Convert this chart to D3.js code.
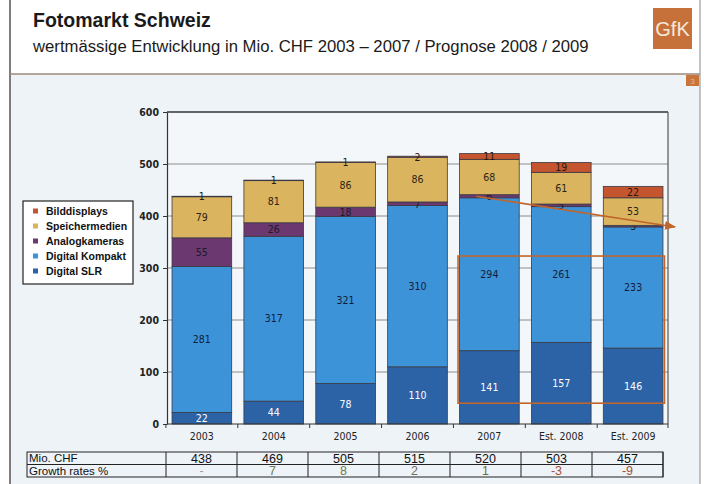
<!DOCTYPE html>
<html><head><meta charset="utf-8">
<script src="https://cdn.jsdelivr.net/npm/d3@7"></script>
<style>
html,body{margin:0;padding:0;background:#fff;}
svg{display:block;}
</style></head>
<body>
<svg id="chart" width="704" height="484"></svg>
<script>
// ---- data ----
const categories = ["2003","2004","2005","2006","2007","Est. 2008","Est. 2009"];
const digitalSLR     = [22, 44, 78, 110, 141, 157, 146];
const digitalKompakt = [281, 317, 321, 310, 294, 261, 233];
const analogkameras  = [55, 26, 18, 7, 6, 5, 3];
const speichermedien = [79, 81, 86, 86, 68, 61, 53];
const bilddisplays   = [1, 1, 1, 2, 11, 19, 22];
const seriesNames  = ["Digital SLR","Digital Kompakt","Analogkameras","Speichermedien","Bilddisplays"];
const seriesColors = ["#2c62a6","#3d93d8","#6c3870","#dbb45f","#c4552e"];
const labelColors  = ["#ffffff","#111d3a","#1a1a2a","#2a2412","#2a1a10"];
const legendOrder  = ["Bilddisplays","Speichermedien","Analogkameras","Digital Kompakt","Digital SLR"];
const yTicks = [0,100,200,300,400,500,600];
const totalsMioCHF = ["438","469","505","515","520","503","457"];
const growthRates  = ["-","7","8","2","1","-3","-9"];
const growthColors = ["#9a9a9a","#6f7a52","#6f7a52","#707060","#7a6a3a","#a4502e","#a4502e"];
const rowLabels = ["Mio. CHF","Growth rates %"];
// annotation: trend arrow (from 2007 at value 438 to beyond plot at value 379), highlight box 2007..2009 from 40 to 323
const trendFrom = {cat:"2007", value:438};
const trendTo   = {value:379};
const highlight = {from:"2007", to:"Est. 2009", low:40, high:323};

const svg = d3.select("#chart");
const W = 704, H = 484;
const narrow = "'Liberation Sans Narrow','Arial Narrow','Liberation Sans',sans-serif";

// backgrounds / frame
svg.append("rect").attr("x",0).attr("y",0).attr("width",W).attr("height",H).attr("fill","#ffffff");
svg.append("rect").attr("x",10).attr("y",74).attr("width",690).attr("height",H-74).attr("fill","#eef3f8");
svg.append("line").attr("x1",10).attr("x2",10).attr("y1",0).attr("y2",H).attr("stroke","#5a5050").attr("stroke-width",1.5);
svg.append("line").attr("x1",700).attr("x2",700).attr("y1",0).attr("y2",H).attr("stroke","#8a8a8a").attr("stroke-width",1);
svg.append("line").attr("x1",10).attr("x2",700).attr("y1",74).attr("y2",74).attr("stroke","#9c8878").attr("stroke-width",1.5);

// title (font size fitted to the reference width)
function fitText(sel, target, base){
  const len = sel.node().getComputedTextLength();
  if (len > 0) sel.attr("font-size", Math.min(base*1.3, base*target/len));
}
const t1 = svg.append("text").attr("x",33).attr("y",27).text("Fotomarkt Schweiz")
  .attr("font-family",narrow).attr("font-weight","bold").attr("font-size",20).attr("fill","#1a1a1a");
fitText(t1, 178, 20);
const t2 = svg.append("text").attr("x",33).attr("y",52).text("wertmässige Entwicklung in Mio. CHF 2003 – 2007 / Prognose 2008 / 2009")
  .attr("font-family",narrow).attr("font-size",19).attr("fill","#1a1a1a");
fitText(t2, 556, 19);

// GfK logo
svg.append("rect").attr("x",653).attr("y",8).attr("width",39).attr("height",41).attr("fill","#c7713a");
svg.append("text").attr("x",672.5).attr("y",36).attr("text-anchor","middle").text("GfK")
  .attr("font-family",narrow).attr("font-size",20).attr("fill","#f4e8de");
svg.append("rect").attr("x",686).attr("y",75).attr("width",13).attr("height",11).attr("fill","#c8743a");
svg.append("text").attr("x",692.5).attr("y",84).attr("text-anchor","middle").text("3")
  .attr("font-family","'Liberation Sans', sans-serif").attr("font-size",8).attr("fill","#e8b896");

// scales
const x = d3.scaleBand().domain(categories).range([167,668]).paddingInner(0.17).paddingOuter(0.07);
const y = d3.scaleLinear().domain([0,600]).range([424,112]);

// plot frame & grid
const g = svg.append("g");
g.append("rect").attr("x",167).attr("y",112).attr("width",501).attr("height",312).attr("fill","#f4f7fa");
g.selectAll("line.grid").data(yTicks.filter(d=>d>0)).join("line").attr("class","grid")
  .attr("x1",167).attr("x2",668).attr("y1",d=>y(d)).attr("y2",d=>y(d))
  .attr("stroke",d=>d===600?"#333":"#8a8a8a").attr("stroke-width",d=>d===600?1.3:1);
g.append("line").attr("x1",668).attr("x2",668).attr("y1",112).attr("y2",424).attr("stroke","#555").attr("stroke-width",1.2);

// stacked bars
const stackData = categories.map((c,i)=>({cat:c, "Digital SLR":digitalSLR[i], "Digital Kompakt":digitalKompakt[i],
  "Analogkameras":analogkameras[i], "Speichermedien":speichermedien[i], "Bilddisplays":bilddisplays[i]}));
const stacked = d3.stack().keys(seriesNames)(stackData);
const layers = g.selectAll("g.layer").data(stacked).join("g").attr("class","layer");
layers.selectAll("rect").data((d,si)=>d.map(v=>({v, si}))).join("rect")
  .attr("x",d=>x(d.v.data.cat)).attr("width",x.bandwidth())
  .attr("y",d=>y(d.v[1])).attr("height",d=>y(d.v[0])-y(d.v[1]))
  .attr("fill",d=>seriesColors[d.si]).attr("stroke","#3a3a46").attr("stroke-width",0.8);
layers.selectAll("text").data((d,si)=>d.map(v=>({v, si}))).join("text")
  .attr("x",d=>x(d.v.data.cat)+x.bandwidth()/2).attr("y",d=>(y(d.v[0])+y(d.v[1]))/2)
  .attr("dy","0.36em").attr("text-anchor","middle")
  .attr("font-family","'DejaVu Sans Condensed','DejaVu Sans',sans-serif").attr("font-size",10.5)
  .attr("fill",d=>labelColors[d.si])
  .text(d=>d.v[1]-d.v[0]);

// axes
const yAxis = d3.axisLeft(y).tickValues(yTicks).tickSize(4).tickSizeOuter(0);
const ya = svg.append("g").attr("transform","translate(167,0)").call(yAxis);
ya.select(".domain").attr("stroke","#333").attr("stroke-width",1.2);
ya.selectAll(".tick line").attr("stroke","#333");
ya.selectAll("text").attr("font-family","'DejaVu Sans Condensed','DejaVu Sans',sans-serif")
  .attr("font-size",10.5).attr("font-weight","bold").attr("fill","#222").attr("x",-8);

const xa = svg.append("g").attr("transform","translate(0,424)");
xa.append("line").attr("x1",167).attr("x2",668).attr("stroke","#333").attr("stroke-width",1.2);
const bounds = categories.map(c=>x(c)-x.step()*x.paddingInner()/2).concat([668]);
xa.selectAll("line.tk").data(bounds).join("line").attr("class","tk")
  .attr("x1",d=>d).attr("x2",d=>d).attr("y1",0).attr("y2",4).attr("stroke","#333");
xa.selectAll("text").data(categories).join("text")
  .attr("x",d=>x(d)+x.bandwidth()/2).attr("y",16).attr("text-anchor","middle")
  .attr("font-family","'DejaVu Sans Condensed','DejaVu Sans',sans-serif").attr("font-size",10.5)
  .attr("fill","#222").text(d=>d);

// annotations
const hx0 = x(highlight.from)-1.5, hx1 = x(highlight.to)+x.bandwidth()+1.5;
svg.append("rect").attr("x",hx0).attr("y",y(highlight.high)).attr("width",hx1-hx0)
  .attr("height",y(highlight.low)-y(highlight.high)).attr("fill","none").attr("stroke","#c0652c").attr("stroke-width",1.6);
const ax0 = x(trendFrom.cat)+x.bandwidth()*0.28, ay0 = y(trendFrom.value);
const ax1 = 675, ay1 = y(trendTo.value);
svg.append("defs").append("marker").attr("id","ah").attr("viewBox","0 0 10 10").attr("refX",9).attr("refY",5)
  .attr("markerWidth",7).attr("markerHeight",7).attr("orient","auto")
  .append("path").attr("d","M0,1 L10,5 L0,9 Z").attr("fill","#c0652c");
svg.append("line").attr("x1",ax0).attr("y1",ay0).attr("x2",ax1).attr("y2",ay1)
  .attr("stroke","#c0652c").attr("stroke-width",1.6).attr("marker-end","url(#ah)");

// legend
const lg = svg.append("g");
lg.append("rect").attr("x",23).attr("y",201).attr("width",110).attr("height",83).attr("fill","#ffffff")
  .attr("stroke","#222").attr("stroke-width",1.2);
const li = lg.selectAll("g.li").data(legendOrder).join("g").attr("class","li")
  .attr("transform",(d,i)=>`translate(0,${211+i*15})`);
li.append("rect").attr("x",33).attr("y",-2.5).attr("width",5).attr("height",5)
  .attr("fill",d=>seriesColors[seriesNames.indexOf(d)]);
li.append("text").attr("x",46).attr("y",0).attr("dy","0.36em").text(d=>d)
  .attr("font-family",narrow).attr("font-weight","bold").attr("font-size",10.5).attr("fill","#111");

// table
const tTop = 452, rowH = 12.5, tLeft = 27, c0 = 166, cW = 71;
const tg = svg.append("g");
tg.append("rect").attr("x",tLeft).attr("y",tTop).attr("width",c0+cW*7-tLeft).attr("height",rowH*2)
  .attr("fill","none").attr("stroke","#222").attr("stroke-width",1);
tg.append("line").attr("x1",tLeft).attr("x2",c0+cW*7).attr("y1",tTop+rowH).attr("y2",tTop+rowH).attr("stroke","#222");
tg.selectAll("line.col").data(d3.range(8)).join("line").attr("class","col")
  .attr("x1",i=>c0+i*cW).attr("x2",i=>c0+i*cW).attr("y1",tTop).attr("y2",tTop+rowH*2).attr("stroke","#222");
tg.selectAll("text.rl").data(rowLabels).join("text").attr("class","rl")
  .attr("x",tLeft+2).attr("y",(d,i)=>tTop+rowH*i+rowH/2).attr("dy","0.36em").text(d=>d)
  .attr("font-family",narrow).attr("font-size",11.5).attr("fill","#111");
tg.selectAll("text.tv").data(totalsMioCHF).join("text").attr("class","tv")
  .attr("x",(d,i)=>c0+i*cW+cW/2).attr("y",tTop+rowH/2).attr("dy","0.36em").attr("text-anchor","middle").text(d=>d)
  .attr("font-family",narrow).attr("font-size",12.5).attr("fill","#111");
tg.selectAll("text.gv").data(growthRates).join("text").attr("class","gv")
  .attr("x",(d,i)=>c0+i*cW+cW/2).attr("y",tTop+rowH*1.5).attr("dy","0.36em").attr("text-anchor","middle").text(d=>d)
  .attr("font-family",narrow).attr("font-size",12.5).attr("fill",(d,i)=>growthColors[i]);
</script>
</body></html>
